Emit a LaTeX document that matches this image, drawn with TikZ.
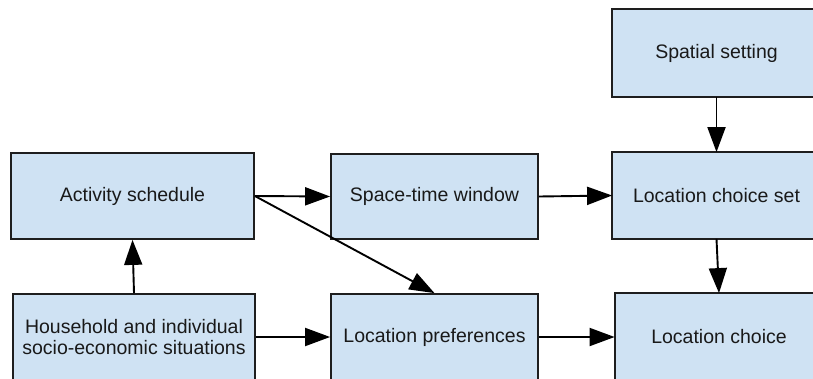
\documentclass[tikz,border=0pt]{standalone}
\usepackage{fontspec}
\setmainfont{Liberation Sans}
\usetikzlibrary{arrows.meta}
\definecolor{boxfill}{RGB}{207,226,243}
\definecolor{boxline}{RGB}{30,30,30}
\tikzset{
  flowbox/.style={draw=boxline, line width=1.8pt, fill=boxfill, align=center,
    inner sep=0pt, text=black!90, font=\fontsize{19.5}{20.5}\selectfont},
  openbox/.style={flowbox, draw=none},
  openborder/.style={draw=boxline, line width=1.8pt, fill=boxfill},
  flowarrow/.style={line width=1.9pt, draw=black, -{Triangle[length=25pt,width=18pt]}},
}
\begin{document}
\begin{tikzpicture}[x=1pt,y=-1pt]
\useasboundingbox (0,0) rectangle (813,378);
\clip (0,0) rectangle (813,378);
\fill[white] (0,0) rectangle (813,378);
% right column boxes: their right side lies outside the picture
\node[openbox, minimum width=207pt, minimum height=86pt] (spatial) at (716.5,53) {};
\node[openbox, minimum width=207pt, minimum height=85pt] (lcs) at (716.5,195.5) {};
\node[openbox, minimum width=207pt, minimum height=86pt] (lc) at (719,337) {};
\foreach \b in {spatial,lcs,lc}{
  \draw[openborder] ([xshift=30pt]\b.north east) -- (\b.north west) -- (\b.south west) -- ([xshift=30pt]\b.south east);
}
\node[openbox, fill=none, minimum width=207pt, minimum height=86pt] (spatialtext) at (spatial.center) {Spatial setting};
\node[openbox, fill=none, minimum width=207pt, minimum height=85pt] (lcstext) at (lcs.center) {Location choice set};
\node[openbox, fill=none, minimum width=207pt, minimum height=86pt] (lctext) at (lc.center) {Location choice};
\node[flowbox, minimum width=243pt, minimum height=86pt] (act) at (132.5,196) {Activity schedule};
\node[flowbox, minimum width=242pt, minimum height=86pt] (hh) at (134,337) {Household and individual\\socio-economic situations};
\node[flowbox, minimum width=207pt, minimum height=85pt] (stw) at (434.5,196.5) {Space-time window};
\node[flowbox, minimum width=207pt, minimum height=86pt] (lp) at (434.5,337) {Location preferences};
\draw[flowarrow] (act.east) -- (stw.west);
\draw[flowarrow] (act.east) -- (lp.north);
\draw[flowarrow] (hh.north) -- (act.south);
\draw[flowarrow] (hh.east) -- (lp.west);
\draw[flowarrow] (stw.east) -- (lcs.west);
\draw[flowarrow] (lp.east) -- (lc.west);
\draw[flowarrow] (spatial.south) -- (lcs.north);
\draw[flowarrow] (lcs.south) -- (lc.north);
\end{tikzpicture}
\end{document}
